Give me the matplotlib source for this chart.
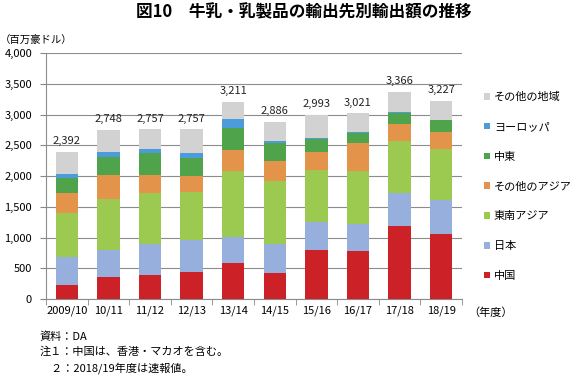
import matplotlib
matplotlib.use("Agg")
import matplotlib.pyplot as plt
import numpy as np

plt.rcParams['font.family'] = ['Noto Sans CJK JP', 'DejaVu Sans']

# ── Data (百万豪ドル) ─────────────────────────────────────────────────────────
years   = ["2009/10", "10/11", "11/12", "12/13", "13/14", "14/15", "15/16", "16/17", "17/18", "18/19"]
china   = [228, 359, 386, 440, 587, 424, 796, 780, 1186, 1056]
japan   = [451, 434, 505, 517, 424, 467, 461, 433, 531, 553]
se_asia = [716, 837, 837, 788, 1076, 1033, 839, 862, 856, 828]
oth_asia= [326, 381, 294, 255, 337, 312, 293, 455, 271, 282]
mideast = [244, 304, 348, 299, 356, 299, 217, 173, 184, 190]
europe  = [71, 76, 65, 81, 147, 27, 8, 8, 8, 8]
others  = [356, 357, 322, 377, 284, 324, 379, 310, 330, 310]

series = [
    ("中国",       china,    "#CC2127"),
    ("日本",       japan,    "#97AFDD"),
    ("東南アジア", se_asia,  "#9CC94F"),
    ("その他のアジア", oth_asia, "#E4934A"),
    ("中東",       mideast,  "#4FA44B"),
    ("ヨーロッパ", europe,   "#4C9CDB"),
    ("その他の地域", others, "#D2D2D2"),
]

W, H = 583, 375
fig = plt.figure(figsize=(W / 100, H / 100), dpi=100)
ax = fig.add_axes([46 / W, 1 - 299 / H, (462 - 46) / W, (299 - 53) / H])

x = np.arange(len(years))
bottom = np.zeros(len(years))
handles = []
for name, vals, col in series:
    b = ax.bar(x, vals, bottom=bottom, width=0.54, color=col, label=name, zorder=3)
    handles.append(b)
    bottom += np.array(vals)

for xi, tot in zip(x, bottom):
    ax.annotate(f"{int(tot):,}", xy=(xi, tot), xytext=(0, 4), textcoords="offset points",
                ha="center", va="bottom", fontsize=8, color="#222222")

ax.set_xlim(-0.5, len(years) - 0.5)
ax.set_ylim(0, 4000)
ax.set_yticks(np.arange(0, 4001, 500))
ax.set_yticklabels([f"{v:,}" for v in range(0, 4001, 500)], fontsize=8)
ax.set_xticks(x)
ax.set_xticklabels(years, fontsize=8)
ax.set_xticks(np.arange(-0.5, len(years), 1), minor=True)
ax.tick_params(axis="x", which="major", length=0, pad=5)
ax.tick_params(axis="x", which="minor", length=4, color="#888888")
ax.tick_params(axis="y", length=4, color="#888888", pad=6)
ax.grid(axis="y", color="#8c8c8c", lw=0.8, zorder=0)
for sp in ["top", "right"]:
    ax.spines[sp].set_visible(False)
for sp in ["left", "bottom"]:
    ax.spines[sp].set_color("#8c8c8c")
    ax.spines[sp].set_linewidth(0.8)

leg = fig.legend(handles[::-1], [s[0] for s in series][::-1], loc="upper left",
                 bbox_to_anchor=(484 / W, 1 - 92 / H), frameon=False, fontsize=8,
                 handlelength=0.55, handleheight=0.55, handletextpad=0.35,
                 labelspacing=1.78, borderpad=0, borderaxespad=0)

fig.text(304 / W, 1 - 12 / H, "図10　牛乳・乳製品の輸出先別輸出額の推移", ha="center", va="center",
         fontsize=12, fontweight="bold")
fig.text(0, 1 - 40 / H, "（百万豪ドル）", ha="left", va="center", fontsize=7.5)
fig.text(468 / W, 1 - 313 / H, "（年度）", ha="left", va="center", fontsize=8)
fig.text(40 / W, 1 - 337 / H, "資料：DA", ha="left", va="center", fontsize=8)
fig.text(40 / W, 1 - 352 / H, "注１：中国は、香港・マカオを含む。", ha="left", va="center", fontsize=8)
fig.text(40 / W, 1 - 368 / H, "　２：2018/19年度は速報値。", ha="left", va="center", fontsize=8)

fig.savefig("out.png", dpi=100)
